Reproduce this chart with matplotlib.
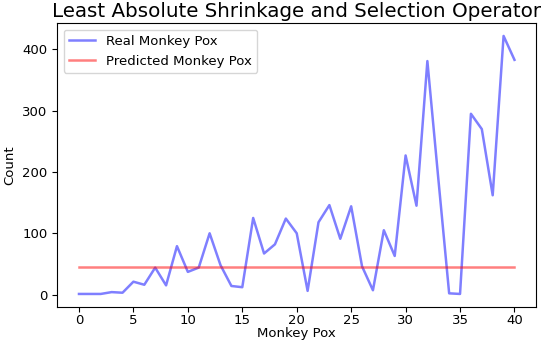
import matplotlib
matplotlib.use("Agg")
import matplotlib.pyplot as plt
import numpy as np

x = list(range(41))
real = [1, 1, 1, 4, 3, 21, 16, 44, 15, 79, 37, 44, 100, 48, 14, 12, 125, 67, 82, 124,
        100, 6, 118, 146, 91, 144, 46, 7, 105, 63, 227, 145, 381, 190, 2, 1, 295, 270, 162, 422, 383]
predicted = [45.5] * 41

fig = plt.figure(figsize=(5.5, 3.44), dpi=100)
ax = fig.add_axes([0.104, 0.108, 0.871, 0.825])
ax.plot(x, real, color="blue", alpha=0.5, lw=1.8, label="Real Monkey Pox")
ax.plot(x, predicted, color="red", alpha=0.5, lw=1.8, label="Predicted Monkey Pox")
ax.set_title("Least Absolute Shrinkage and Selection Operator", fontsize=14.3, pad=4)
ax.set_xlabel("Monkey Pox", fontsize=9.5, labelpad=0)
ax.set_ylabel("Count", fontsize=9.5)
ax.tick_params(labelsize=9.5)
ax.tick_params(axis="x", pad=2)
ax.set_xticks([0, 5, 10, 15, 20, 25, 30, 35, 40])
ax.set_yticks([0, 100, 200, 300, 400])
ax.legend(loc="upper left", fontsize=9.5)
fig.savefig("out.png", dpi=100)
